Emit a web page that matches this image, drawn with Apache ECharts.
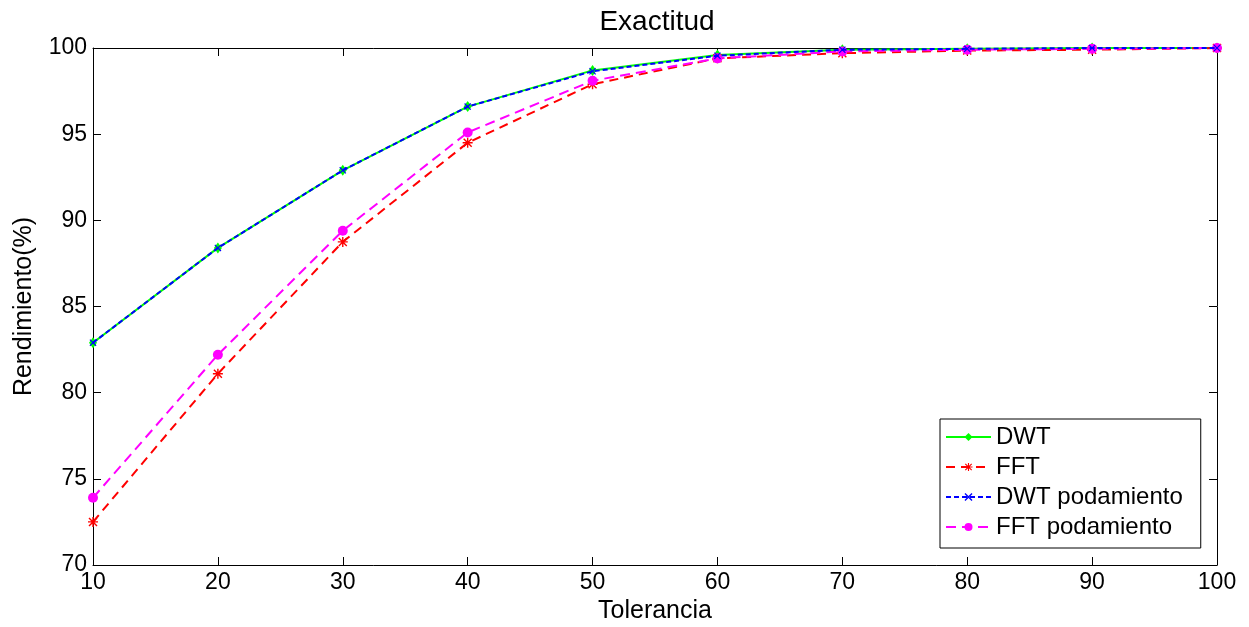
<!DOCTYPE html>
<html><head><meta charset="utf-8">
<script src="https://cdn.jsdelivr.net/npm/echarts@6/dist/echarts.min.js"></script>
<style>html,body{margin:0;padding:0;background:#fff}#c{width:1249px;height:627px}</style>
</head><body><div id="c"></div>
<script>
const categories = [10,20,30,40,50,60,70,80,90,100];
const dwt    = [82.9, 88.4, 92.9, 96.6, 98.7, 99.6, 99.9, 99.95, 100, 100];
const fft    = [72.5, 81.1, 88.75, 94.5, 97.9, 99.4, 99.7, 99.85, 99.9, 100];
const dwtPod = [82.9, 88.4, 92.9, 96.6, 98.65, 99.55, 99.9, 99.95, 100, 100];
const fftPod = [73.9, 82.2, 89.4, 95.1, 98.1, 99.4, 99.8, 99.9, 99.95, 100];
const yTicks = [70,75,80,85,90,95,100];

const F = 'Liberation Sans, Arial, sans-serif';
const asterisk = 'path://M0,4.3L10,4.3L10,5.7L0,5.7ZM4.3,0L5.7,0L5.7,10L4.3,10ZM0.5,1.5L1.5,0.5L9.5,8.5L8.5,9.5ZM8.5,0.5L9.5,1.5L1.5,9.5L0.5,8.5Z';
const xmark = 'path://M0,1.2L1.2,0L10,8.8L8.8,10ZM8.8,0L10,1.2L1.2,10L0,8.8Z';
const pair = a => categories.map((c,i)=>[c,a[i]]);

const chart = echarts.init(document.getElementById('c'), null, {renderer:'canvas'});
const axLine = {show:true, lineStyle:{color:'#000', width:1}};
chart.setOption({
  animation:false,
  backgroundColor:'#fff',
  title:{text:'Exactitud', left:652, top:3, textAlign:'center',
    textStyle:{fontFamily:F, fontSize:28, fontWeight:'normal', color:'#000'}},
  grid:{left:93, right:32, top:48, bottom:62, show:false, containLabel:false, outerBoundsMode:'none'},
  xAxis:[{
    type:'value', min:10, max:100, interval:10,
    name:'Tolerancia', nameLocation:'middle', nameGap:32,
    nameTextStyle:{fontFamily:F, fontSize:25, color:'#000'},
    axisLine:axLine, axisTick:{inside:true, length:8, lineStyle:{color:'#000'}},
    axisLabel:{fontFamily:F, fontSize:23, color:'#000', margin:6},
    splitLine:{show:false}
  },{
    type:'value', min:10, max:100, interval:10, position:'top',
    axisLine:axLine, axisTick:{inside:true, length:8, lineStyle:{color:'#000'}},
    axisLabel:{show:false}, splitLine:{show:false}
  }],
  yAxis:[{
    type:'value', min:70, max:100, interval:5,
    name:'Rendimiento(%)', nameLocation:'middle', nameGap:56, nameRotate:90,
    nameTextStyle:{fontFamily:F, fontSize:25, color:'#000'},
    axisLine:axLine, axisTick:{inside:true, length:8, lineStyle:{color:'#000'}},
    axisLabel:{fontFamily:F, fontSize:23, color:'#000', margin:6,
      formatter:v=>yTicks.includes(v)?String(v):''},
    splitLine:{show:false}
  },{
    type:'value', min:70, max:100, interval:5, position:'right',
    axisLine:axLine, axisTick:{inside:true, length:8, lineStyle:{color:'#000'}},
    axisLabel:{show:false}, splitLine:{show:false}
  }],
  legend:{
    left:940, top:419, orient:'vertical',
    backgroundColor:'#fff', borderColor:'#000', borderWidth:1,
    padding:[6,18,9,5], itemGap:6, itemWidth:45, itemHeight:10,
    textStyle:{fontFamily:F, fontSize:24, color:'#000'},
    data:['DWT','FFT','DWT podamiento','FFT podamiento']
  },
  series:[
    {name:'DWT', type:'line', data:pair(dwt), symbol:'diamond', symbolSize:[8,11],
     itemStyle:{color:'#00ff00'}, lineStyle:{color:'#00ff00', width:2}, z:2},
    {name:'FFT', type:'line', data:pair(fft), symbol:asterisk, symbolSize:10,
     itemStyle:{color:'#ff0000'}, lineStyle:{color:'#ff0000', width:2, type:[9,6]}, z:3},
    {name:'DWT podamiento', type:'line', data:pair(dwtPod), symbol:xmark, symbolSize:7,
     itemStyle:{color:'#0000ff'}, lineStyle:{color:'#0000ff', width:2, type:[5,3]}, z:4},
    {name:'FFT podamiento', type:'line', data:pair(fftPod), symbol:'circle', symbolSize:10,
     itemStyle:{color:'#ff00ff'}, lineStyle:{color:'#ff00ff', width:2, type:[10,6]}, z:3}
  ]
});
</script></body></html>
